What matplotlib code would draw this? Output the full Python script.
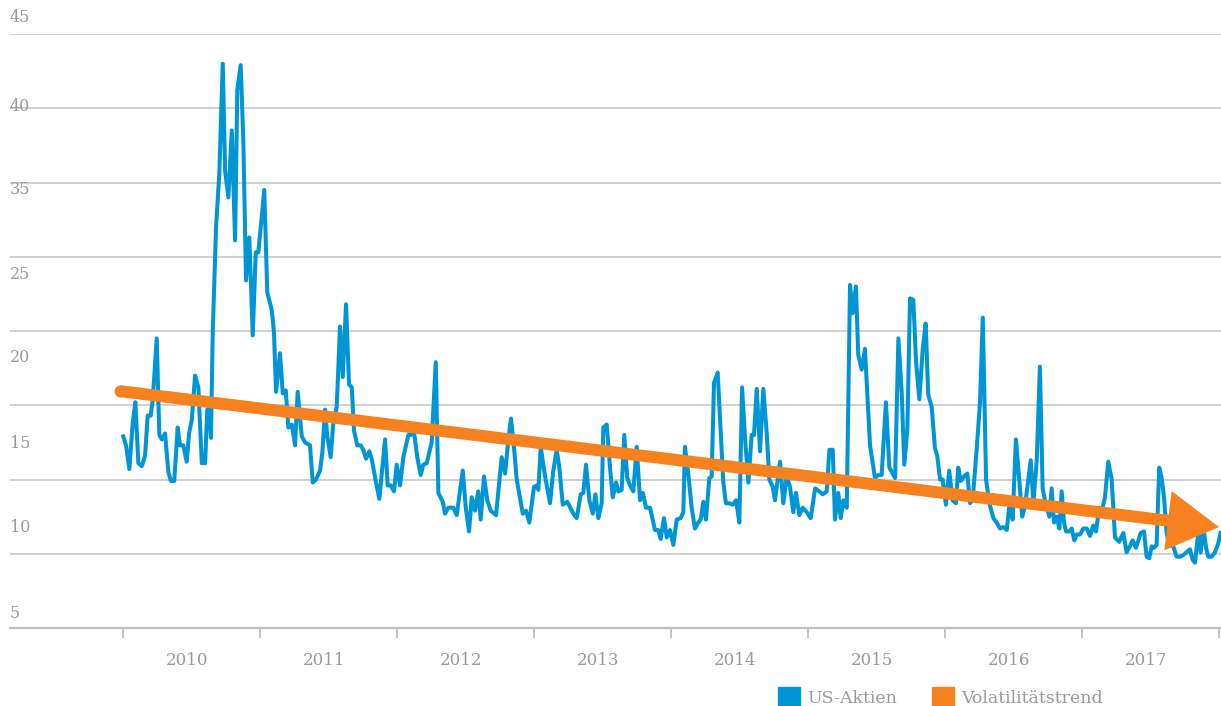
import matplotlib

matplotlib.use('Agg')
import matplotlib.pyplot as plt
from matplotlib.patches import Patch
import numpy as np

plt.rcParams['font.family'] = ['DejaVu Serif']

# Zeit in Jahren seit Anfang 2010
zeit_offset = [
    # 2010
    0.002, 0.022, 0.046, 0.071, 0.090, 0.112, 0.137, 0.161, 0.180, 0.202, 0.217, 0.246,
    0.265, 0.283, 0.307, 0.331, 0.350, 0.374, 0.399, 0.416, 0.440, 0.465, 0.482, 0.502,
    0.526, 0.550, 0.575, 0.599, 0.615, 0.630, 0.642, 0.655, 0.679, 0.703, 0.728, 0.745,
    0.769, 0.794, 0.818, 0.834, 0.859, 0.878, 0.898, 0.922, 0.947, 0.969, 0.988,
    # 2011
    1.031, 1.053, 1.086, 1.102, 1.117, 1.146, 1.166, 1.188, 1.207, 1.232, 1.256, 1.275,
    1.305, 1.329, 1.365, 1.385, 1.409, 1.438, 1.455, 1.475, 1.491, 1.516, 1.535, 1.560,
    1.584, 1.604, 1.628, 1.650, 1.670, 1.686, 1.710, 1.735, 1.754, 1.774, 1.798, 1.815,
    1.847, 1.871, 1.913, 1.932, 1.954, 1.978, 1.998,
    # 2012
    2.022, 2.046, 2.083, 2.100, 2.124, 2.148, 2.173, 2.192, 2.217, 2.253, 2.283, 2.302,
    2.334, 2.351, 2.375, 2.411, 2.436, 2.480, 2.502, 2.526, 2.545, 2.569, 2.593, 2.611,
    2.635, 2.659, 2.684, 2.723, 2.764, 2.789, 2.813, 2.832, 2.849, 2.874, 2.918, 2.942,
    2.966,
    # 2013
    3.000, 3.020, 3.032, 3.049, 3.081, 3.117, 3.141, 3.166, 3.185, 3.210, 3.243, 3.287,
    3.312, 3.341, 3.360, 3.380, 3.404, 3.429, 3.448, 3.470, 3.494, 3.506, 3.531, 3.555,
    3.575, 3.599, 3.616, 3.640, 3.659, 3.681, 3.701, 3.725, 3.750, 3.774, 3.794, 3.818,
    3.847, 3.883, 3.907, 3.925, 3.949, 3.969, 3.993,
    # 2014
    4.017, 4.042, 4.071, 4.090, 4.102, 4.126, 4.151, 4.175, 4.199, 4.217, 4.236, 4.255,
    4.280, 4.297, 4.314, 4.341, 4.363, 4.382, 4.401, 4.426, 4.451, 4.475, 4.499, 4.519,
    4.541, 4.565, 4.589, 4.606, 4.626, 4.650, 4.674, 4.699, 4.718, 4.743, 4.759, 4.796,
    4.820, 4.845, 4.869, 4.893, 4.912, 4.937, 4.962, 4.991,
    # 2015
    5.020, 5.052, 5.083, 5.108, 5.137, 5.156, 5.181, 5.197, 5.221, 5.239, 5.258, 5.283,
    5.307, 5.326, 5.350, 5.367, 5.392, 5.416, 5.453, 5.489, 5.513, 5.538, 5.569, 5.594,
    5.636, 5.660, 5.684, 5.703, 5.725, 5.745, 5.769, 5.789, 5.813, 5.837, 5.859, 5.878,
    5.903, 5.927, 5.944, 5.964, 5.983,
    # 2016
    6.007, 6.031, 6.056, 6.080, 6.097, 6.115, 6.139, 6.163, 6.183, 6.203, 6.232, 6.256,
    6.276, 6.300, 6.324, 6.353, 6.378, 6.402, 6.426, 6.451, 6.475, 6.494, 6.518, 6.540,
    6.564, 6.584, 6.608, 6.626, 6.645, 6.670, 6.693, 6.713, 6.730, 6.750, 6.762, 6.779,
    6.796, 6.816, 6.835, 6.852, 6.869, 6.884, 6.908, 6.925, 6.944, 6.962, 6.986,
    # 2017
    7.010, 7.035, 7.059, 7.083, 7.102, 7.127, 7.144, 7.168, 7.192, 7.217, 7.241, 7.272,
    7.302, 7.326, 7.350, 7.370, 7.394, 7.429, 7.453, 7.472, 7.491, 7.509, 7.526, 7.545,
    7.564, 7.582, 7.599, 7.618, 7.637, 7.667, 7.691, 7.715, 7.739, 7.764, 7.788, 7.808,
    7.825, 7.849, 7.867, 7.886, 7.906, 7.922, 7.947, 7.971, 7.995, 8.012,
]

us_aktien = [
    # 2010
    17.9, 17.3, 15.7, 18.8, 20.2, 16.1, 15.9, 16.6, 19.3, 19.3, 20.4, 24.5,
    18.0, 17.7, 18.1, 15.5, 14.9, 14.9, 18.5, 17.3, 17.3, 16.2, 18.1, 19.0,
    22.0, 21.2, 16.1, 16.1, 19.7, 19.8, 17.8, 24.9, 32.0, 35.6, 43.0, 35.8,
    34.0, 38.5, 31.1, 41.2, 42.9, 37.9, 28.4, 31.3, 24.7, 30.3, 30.3,
    # 2011
    34.5, 27.6, 26.4, 24.9, 20.9, 23.5, 20.8, 21.0, 18.5, 18.7, 17.3, 20.9,
    17.9, 17.5, 17.3, 14.8, 15.0, 15.6, 16.8, 19.7, 17.9, 16.5, 18.8, 19.9,
    25.3, 21.9, 26.8, 21.4, 21.2, 18.3, 17.3, 17.3, 17.0, 16.4, 16.9, 16.4,
    14.8, 13.7, 17.7, 14.6, 14.6, 14.2, 16.0,
    # 2012
    14.6, 16.5, 18.0, 18.0, 18.2, 16.5, 15.3, 16.0, 16.1, 17.5, 22.9, 14.1,
    13.5, 12.7, 13.1, 13.1, 12.6, 15.6, 13.1, 11.5, 13.8, 12.9, 14.2, 12.3,
    15.2, 13.6, 12.9, 12.6, 16.5, 15.4, 17.7, 19.1, 17.7, 15.0, 12.7, 12.9,
    12.1,
    # 2013
    14.5, 14.6, 14.3, 17.2, 15.2, 13.4, 15.6, 17.0, 15.8, 13.3, 13.5, 12.7,
    12.4, 14.0, 14.1, 16.0, 13.6, 12.7, 14.0, 12.4, 13.4, 18.5, 18.7, 15.8,
    13.8, 14.8, 14.2, 14.3, 18.0, 15.1, 14.6, 14.2, 17.2, 13.6, 14.1, 13.1,
    13.1, 11.6, 11.6, 11.0, 12.4, 11.1, 11.6,
    # 2014
    10.6, 12.3, 12.4, 12.8, 17.2, 15.4, 13.1, 11.7, 12.1, 12.3, 13.5, 12.3,
    15.1, 15.2, 21.5, 22.2, 18.3, 14.8, 13.4, 13.4, 13.3, 13.6, 12.1, 21.2,
    17.7, 14.8, 18.0, 18.0, 21.1, 16.9, 21.1, 18.1, 15.0, 14.5, 13.6, 16.2,
    13.4, 15.2, 14.5, 12.8, 14.1, 12.6, 13.1, 12.8,
    # 2015
    12.4, 14.4, 14.2, 14.0, 14.2, 17.0, 17.0, 12.3, 14.1, 12.4, 13.6, 13.1,
    28.1, 26.2, 28.0, 23.4, 22.4, 23.8, 17.3, 15.1, 15.3, 15.3, 20.2, 15.8,
    15.1, 24.5, 20.9, 16.0, 18.3, 27.2, 27.1, 22.9, 20.4, 23.7, 25.5, 20.7,
    19.9, 17.1, 16.6, 15.0, 15.0,
    # 2016
    13.3, 15.6, 13.6, 13.4, 15.8, 14.9, 15.2, 15.4, 13.4, 13.7, 17.1, 20.2,
    25.9, 15.0, 13.4, 12.4, 12.1, 11.7, 11.8, 11.6, 13.7, 12.3, 17.7, 15.2,
    12.5, 13.2, 15.0, 16.3, 13.4, 16.3, 22.6, 14.4, 13.6, 12.9, 12.5, 14.4,
    12.1, 12.5, 11.7, 14.2, 12.1, 11.5, 11.5, 11.7, 10.9, 11.3, 11.3,
    # 2017
    11.7, 11.7, 11.2, 11.9, 11.5, 13.1, 12.8, 13.8, 16.2, 15.0, 11.1, 10.8,
    11.4, 10.1, 10.5, 10.9, 10.4, 11.4, 11.5, 9.8, 9.7, 10.5, 10.4, 10.6,
    15.8, 15.1, 13.8, 11.4, 10.6, 10.5, 9.8, 9.8, 9.9, 10.1, 10.3, 9.6,
    9.4, 11.4, 10.1, 11.8, 10.4, 9.8, 9.8, 10.1, 10.7, 11.4,
]

# Volatilitaetstrend (Anfang und Ende des Pfeils)
trend_offset = [-0.022, 8.0]
trend_wert = [20.95, 11.8]

jahre = [2010, 2011, 2012, 2013, 2014, 2015, 2016, 2017]
y_beschriftung = ['45', '40', '35', '25', '20', '15', '10', '5']
y_beschriftung_pos = [46.1, 40.15, 34.5, 28.8, 23.2, 17.45, 11.75, 6.0]

BLAU = '#0096d6'
ORANGE = '#f5821f'
TEXT = '#9a9a9a'
GRID = '#c4c4c8'
ACHSE = '#bebec3'

zeit = 2010 + np.array(zeit_offset)
trend_zeit = 2010 + np.array(trend_offset)

fig = plt.figure(figsize=(12.21, 7.06), dpi=100)
ax = fig.add_axes([10 / 1221, 78 / 706, 1211 / 1221, 594 / 706])

ax.plot(zeit, us_aktien, color=BLAU, lw=2.9, solid_joinstyle='round', zorder=3)

ax.plot(trend_zeit[:1], trend_wert[:1], 'o', color=ORANGE, ms=8.6, mew=0, zorder=4)
ax.annotate(
    '', xy=(trend_zeit[1], trend_wert[1]), xytext=(trend_zeit[0], trend_wert[0]),
    arrowprops=dict(arrowstyle='simple,head_length=1.85,head_width=2.15,tail_width=0.43',
                    mutation_scale=20, fc=ORANGE, ec='none', shrinkA=0, shrinkB=0),
    zorder=4,
)

ax.set_xlim(2009.175, 2018.015)
ax.set_ylim(5, 45)

ax.set_yticks(np.arange(5, 50, 5))
ax.tick_params(axis='y', length=0, labelleft=False)
ax.yaxis.grid(True, color=GRID, lw=1.1)
ax.set_axisbelow(True)
for yp, lab in zip(y_beschriftung_pos, y_beschriftung):
    ax.text(0, yp, lab, transform=ax.get_yaxis_transform(), ha='left', va='center',
            color=TEXT, fontsize=11.5)

ax.set_xticks(np.arange(2010, 2019))
ax.set_xticklabels([])
ax.set_xticks([j + 0.47 for j in jahre], minor=True)
ax.set_xticklabels([str(j) for j in jahre], minor=True)
ax.tick_params(axis='x', which='major', length=7, width=1.3, color=ACHSE)
ax.tick_params(axis='x', which='minor', length=0, pad=17, labelcolor=TEXT, labelsize=12)

for s in ['top', 'left', 'right']:
    ax.spines[s].set_visible(False)
ax.spines['bottom'].set_color(ACHSE)
ax.spines['bottom'].set_linewidth(1.6)

handles = [Patch(color=BLAU), Patch(color=ORANGE)]
fig.legend(handles, ['US-Aktien', 'Volatilitätstrend'], loc='center left',
           bbox_to_anchor=(778 / 1221, 9 / 706), ncol=2, frameon=False,
           borderpad=0, borderaxespad=0, handlelength=1.25, handleheight=1.25,
           handletextpad=0.45, columnspacing=2.0, fontsize=12.5, labelcolor=TEXT)

fig.savefig('out.png', dpi=100)
